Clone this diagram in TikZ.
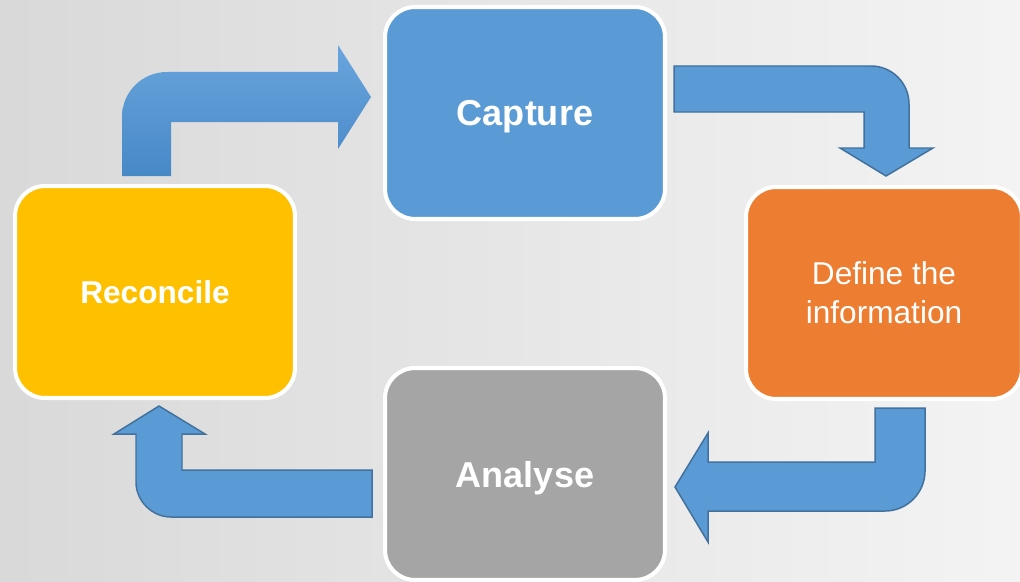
\documentclass[tikz,border=0pt]{standalone}
\usepackage{fontspec}
\setmainfont{Liberation Sans}
\definecolor{capblue}{HTML}{5B9BD5}
\definecolor{deforange}{HTML}{ED7D31}
\definecolor{anagray}{HTML}{A5A5A5}
\definecolor{recyellow}{HTML}{FFC000}
\definecolor{arrline}{HTML}{41719C}
\definecolor{arrtop}{HTML}{69A5DD}
\definecolor{arrbot}{HTML}{4788C7}
\begin{document}
\begin{tikzpicture}[x=0.02cm,y=-0.02cm,line join=miter,
  box/.style={draw=white,line width=2.3pt,rounded corners=0.6cm,
    minimum width=5.6cm,minimum height=4.24cm,text=white,align=center},
  big/.style={font=\bfseries\fontsize{20.5}{24}\selectfont,text depth=0pt},
  blk/.style={fill=capblue,draw=arrline,line width=0.85pt}]
  \useasboundingbox (0,0) rectangle (1020,581);
  \shade[left color=gray!30,right color=gray!9] (0,0) rectangle (1020,581);
  % boxes
  \node[box,fill=capblue,big] (Cap) at (525,113) {Capture};
  \node[box,fill=deforange,font=\fontsize{18}{22}\selectfont,
    minimum width=5.52cm] (Def) at (884,293) {Define the\\information};
  \node[box,fill=anagray,big] (Ana) at (525,474) {Analyse};
  \node[box,fill=recyellow,font=\bfseries\fontsize{18}{22}\selectfont]
    (Rec) at (155,292) {Reconcile};
  % block arrows
  \shade[top color=arrtop,bottom color=arrbot]
    (122,176) -- (122,117) .. controls (122,92) and (142,72) .. (167,72)
    -- (338,72) -- (338,45) -- (371,97) -- (338,149) -- (338,122)
    -- (171,122) -- (171,176) -- cycle;
  \draw[blk] (674,66) -- (871,66) .. controls (892,66) and (909,83) .. (909,104)
    -- (909,148) -- (933,148) -- (886,176) -- (840,148) -- (864,148)
    -- (864,112) -- (674,112) -- cycle;
  \draw[blk] (875,408) -- (925,408) -- (925,471) .. controls (925,493) and (907,511) .. (885,511)
    -- (708,511) -- (708,542) -- (675,487) -- (708,433) -- (708,462)
    -- (875,462) -- cycle;
  \draw[blk] (372,470) -- (372,517) -- (171,517) .. controls (152,517) and (136,501) .. (136,482)
    -- (136,434) -- (114,434) -- (159,406) -- (205,434) -- (182,434)
    -- (182,470) -- cycle;
\end{tikzpicture}
\end{document}
